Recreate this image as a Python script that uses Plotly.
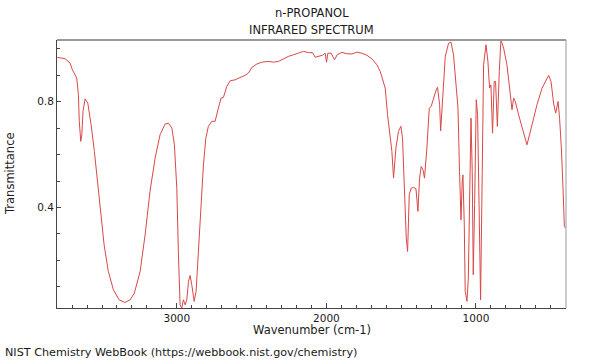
import plotly.graph_objects as go

wavenumber = [3800, 3796, 3747, 3714, 3698, 3680, 3669, 3658, 3652, 3642, 3635, 3627, 3613, 3595, 3573, 3551, 3528, 3508, 3486, 3458, 3424, 3386, 3346, 3312, 3284, 3245, 3212, 3179, 3145, 3112, 3078, 3056, 3033, 3016, 3000, 2989, 2978, 2967, 2956, 2944, 2933, 2922, 2911, 2900, 2884, 2871, 2856, 2837, 2822, 2806, 2789, 2766, 2744, 2722, 2704, 2688, 2666, 2643, 2610, 2577, 2543, 2521, 2498, 2465, 2431, 2387, 2354, 2320, 2287, 2253, 2220, 2187, 2153, 2120, 2093, 2075, 2053, 2026, 2008, 1999, 1990, 1968, 1946, 1928, 1896, 1863, 1829, 1796, 1763, 1729, 1696, 1662, 1640, 1618, 1607, 1591, 1573, 1562, 1551, 1535, 1518, 1502, 1491, 1478, 1466, 1457, 1446, 1433, 1417, 1401, 1388, 1377, 1366, 1354, 1344, 1328, 1312, 1299, 1284, 1266, 1257, 1243, 1236, 1221, 1205, 1183, 1167, 1150, 1132, 1120, 1110, 1100, 1092, 1087, 1078, 1072, 1060, 1051, 1043, 1033, 1025, 1018, 1009, 998, 989, 978, 969, 958, 949, 933, 920, 909, 900, 889, 878, 869, 857, 844, 833, 815, 793, 775, 759, 748, 737, 715, 686, 659, 625, 592, 558, 514, 498, 481, 467, 451, 441, 429, 418, 409, 401]

transmittance = [0.968, 0.968, 0.963, 0.947, 0.921, 0.902, 0.890, 0.827, 0.726, 0.650, 0.675, 0.764, 0.811, 0.795, 0.713, 0.612, 0.486, 0.359, 0.258, 0.158, 0.088, 0.050, 0.040, 0.050, 0.075, 0.158, 0.296, 0.461, 0.587, 0.675, 0.716, 0.719, 0.700, 0.637, 0.473, 0.220, 0.031, 0.018, 0.050, 0.031, 0.050, 0.120, 0.142, 0.107, 0.044, 0.082, 0.220, 0.410, 0.561, 0.662, 0.707, 0.726, 0.726, 0.776, 0.814, 0.817, 0.858, 0.880, 0.883, 0.892, 0.900, 0.909, 0.930, 0.943, 0.950, 0.953, 0.950, 0.953, 0.963, 0.972, 0.978, 0.984, 0.991, 0.986, 0.986, 0.969, 0.972, 0.976, 0.984, 0.950, 0.984, 0.984, 0.959, 0.978, 0.987, 0.982, 0.981, 0.988, 0.984, 0.976, 0.963, 0.940, 0.915, 0.877, 0.852, 0.751, 0.662, 0.612, 0.511, 0.625, 0.688, 0.707, 0.662, 0.473, 0.284, 0.233, 0.448, 0.473, 0.476, 0.470, 0.385, 0.511, 0.555, 0.542, 0.511, 0.625, 0.776, 0.783, 0.814, 0.845, 0.855, 0.789, 0.690, 0.852, 0.972, 1.022, 1.026, 0.978, 0.852, 0.776, 0.536, 0.353, 0.498, 0.523, 0.334, 0.082, 0.044, 0.132, 0.410, 0.738, 0.536, 0.145, 0.410, 0.808, 0.751, 0.347, 0.050, 0.536, 0.940, 1.016, 0.953, 0.852, 0.864, 0.681, 0.877, 0.877, 0.707, 0.915, 1.034, 1.003, 0.940, 0.852, 0.770, 0.814, 0.801, 0.751, 0.688, 0.637, 0.713, 0.789, 0.852, 0.900, 0.877, 0.795, 0.757, 0.801, 0.738, 0.625, 0.473, 0.328, 0.322]

x_ticks = [3000, 2000, 1000]
y_ticks = [0.4, 0.8]
y_tick_labels = ["0.4", "0.8"]

title_lines = ["n-PROPANOL", "INFRARED SPECTRUM"]
x_label = "Wavenumber (cm-1)"
y_label = "Transmittance"
footer = "NIST Chemistry WebBook (https://webbook.nist.gov/chemistry)"

FONT = "DejaVu Sans"
TXT = "#1a1a1a"
FS = 11.5

fig = go.Figure()
fig.add_trace(go.Scatter(
    x=wavenumber, y=transmittance, mode="lines",
    line=dict(color="#d94848", width=1),
    hoverinfo="skip", showlegend=False,
))

# plot area in pixels: x 57..566, y 40..308
L, R, T, B = 57, 566, 40, 308
W, H = 600, 360

def px_x(p):
    return (p - L) / (R - L)

def px_y(p):
    return (B - p) / (B - T)

fig.update_layout(
    width=W, height=H,
    margin=dict(l=L, r=W - R, t=T, b=H - B, pad=0),
    paper_bgcolor="white", plot_bgcolor="white",
    font=dict(family=FONT, size=FS, color=TXT),
    showlegend=False,
)

fig.update_xaxes(
    range=[3801, 398], autorange=False,
    tickmode="array", tickvals=x_ticks,
    ticks="inside", ticklen=5, tickwidth=1, tickcolor="#444",
    minor=dict(tickmode="linear", tick0=0, dtick=100, ticks="inside", ticklen=3, tickwidth=1, tickcolor="#444", showgrid=False),
    showgrid=False, zeroline=False,
    showline=True, linecolor="#444", linewidth=1, mirror=False,
    tickfont=dict(family=FONT, size=10.5, color=TXT),
)
fig.update_yaxes(
    range=[0.019, 1.034], autorange=False,
    tickmode="array", tickvals=y_ticks, ticktext=y_tick_labels,
    ticks="inside", ticklen=4, tickwidth=1, tickcolor="#444",
    minor=dict(tickmode="linear", tick0=0, dtick=0.1, ticks="inside", ticklen=3, tickwidth=1, tickcolor="#444", showgrid=False),
    showgrid=False, zeroline=False,
    showline=True, linecolor="#444", linewidth=1, mirror=False,
    tickfont=dict(family=FONT, size=10.5, color=TXT),
)

# top and right frame lines (lighter grey)
fig.add_shape(type="line", xref="paper", yref="paper", x0=0, x1=1, y0=1, y1=1,
              line=dict(color="#999999", width=2))
fig.add_shape(type="line", xref="paper", yref="paper", x0=1, x1=1, y0=0, y1=1,
              line=dict(color="#999999", width=1))

ann = [
    dict(text=title_lines[0], x=0.5, y=px_y(13), xanchor="center", yanchor="middle", size=FS),
    dict(text=title_lines[1], x=0.5, y=px_y(30), xanchor="center", yanchor="middle", size=FS),
    dict(text=x_label, x=px_x(311.5), y=px_y(330), xanchor="center", yanchor="middle", size=FS),
    dict(text=y_label, x=px_x(10), y=px_y(174), xanchor="center", yanchor="middle", textangle=-90, size=FS),
    dict(text=footer, x=px_x(2.5), y=px_y(352), xanchor="left", yanchor="middle", size=11.2),
]
for a in ann:
    size = a.pop("size")
    fig.add_annotation(xref="paper", yref="paper", showarrow=False,
                       font=dict(family=FONT, size=size, color=TXT), **a)

fig.write_html("out.html", config={"displayModeBar": False},
               post_script="document.body.style.margin='0';document.body.style.padding='0';")
